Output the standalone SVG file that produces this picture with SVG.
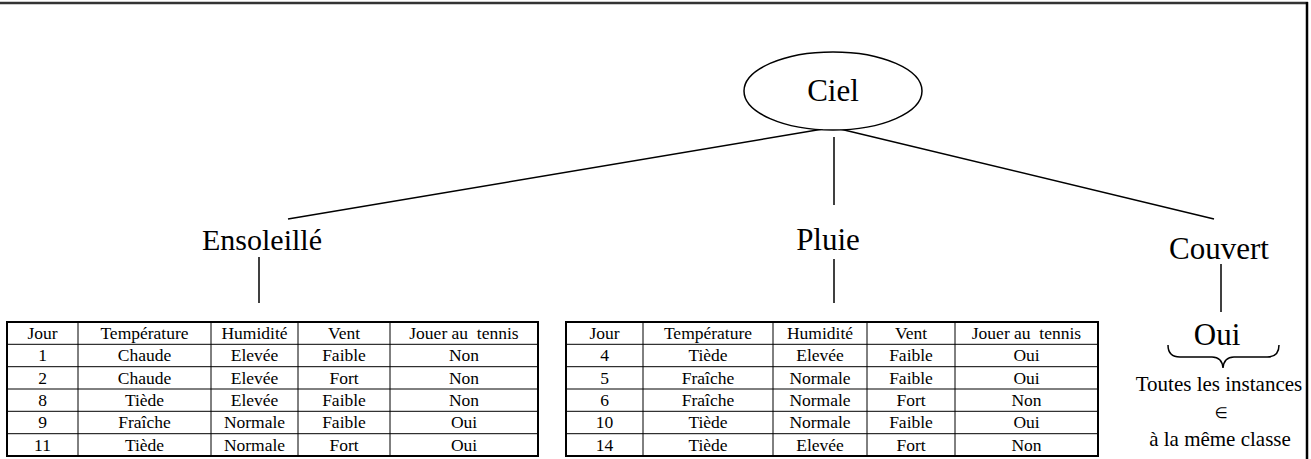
<svg xmlns="http://www.w3.org/2000/svg" width="1311" height="459" viewBox="0 0 1311 459">
<style>
.lbl{font-family:"Liberation Serif","Times New Roman",serif;font-size:31px;fill:#000;text-anchor:middle}
.t{font-family:"Liberation Serif","Times New Roman",serif;font-size:17.5px;fill:#000;text-anchor:middle;white-space:pre}
.s{font-family:"Liberation Serif","Times New Roman",serif;font-size:21px;fill:#000;text-anchor:middle}
.ln{stroke:#000;stroke-width:1.5;fill:none}
.outer{stroke:#000;stroke-width:2;fill:#fff}
.inner{stroke:#000;stroke-width:1;fill:none}
</style>
<rect width="1311" height="459" fill="#fff"/>
<g id="frame">
<line x1="0" y1="3" x2="1308" y2="3" stroke="#333" stroke-width="2.5"/>
<line x1="1307" y1="2" x2="1307" y2="459" stroke="#000" stroke-width="2.5"/>
</g>
<g id="connectors">
<line class="ln" x1="823" y1="129" x2="288" y2="219"/>
<line class="ln" x1="834" y1="137" x2="834" y2="205"/>
<line class="ln" x1="840" y1="129" x2="1214" y2="219"/>
<line class="ln" x1="259" y1="257" x2="259" y2="303"/>
<line class="ln" x1="834" y1="259" x2="834" y2="303"/>
<line class="ln" x1="1221" y1="264" x2="1221" y2="312"/>
</g>
<g id="ciel">
<ellipse cx="833" cy="91" rx="89" ry="39" fill="#fff" stroke="#000" stroke-width="1.5"/>
<text class="lbl" x="833" y="101">Ciel</text>
</g>
<g id="ensoleille"><text class="lbl" x="262" y="250" style="font-size:30px">Ensoleillé</text></g>
<g id="pluie"><text class="lbl" x="828" y="250">Pluie</text></g>
<g id="couvert"><text class="lbl" x="1219" y="259">Couvert</text></g>
<g id="oui">
<text class="lbl" x="1217" y="345">Oui</text>
<path d="M1168,345 Q1168,357 1180,357 L1212,357 Q1222,357 1223,368 Q1224,357 1234,357 L1267,357 Q1279,357 1279,345" class="ln"/>
<text class="s" x="1219" y="391">Toutes les instances</text>
<text x="1221" y="418" style="font-family:'DejaVu Sans',sans-serif;font-size:15px;text-anchor:middle">∈</text>
<text class="s" x="1220" y="446">à la même classe</text>
</g>
<g id="table-ensoleille">
<rect class="outer" x="7" y="322" width="531" height="134"/>
<path class="inner" d="M78,322V456M211,322V456M298,322V456M390,322V456M7,344.3H538M7,366.7H538M7,389H538M7,411.3H538M7,433.7H538"/>
<text class="t" y="339"><tspan x="42.5">Jour</tspan><tspan x="144.5">Température</tspan><tspan x="254.5">Humidité</tspan><tspan x="344">Vent</tspan><tspan x="464">Jouer au  tennis</tspan></text>
<text class="t" y="361.3"><tspan x="42.5">1</tspan><tspan x="144.5">Chaude</tspan><tspan x="254.5">Elevée</tspan><tspan x="344">Faible</tspan><tspan x="464">Non</tspan></text>
<text class="t" y="383.7"><tspan x="42.5">2</tspan><tspan x="144.5">Chaude</tspan><tspan x="254.5">Elevée</tspan><tspan x="344">Fort</tspan><tspan x="464">Non</tspan></text>
<text class="t" y="406"><tspan x="42.5">8</tspan><tspan x="144.5">Tiède</tspan><tspan x="254.5">Elevée</tspan><tspan x="344">Faible</tspan><tspan x="464">Non</tspan></text>
<text class="t" y="428.3"><tspan x="42.5">9</tspan><tspan x="144.5">Fraîche</tspan><tspan x="254.5">Normale</tspan><tspan x="344">Faible</tspan><tspan x="464">Oui</tspan></text>
<text class="t" y="450.7"><tspan x="42.5">11</tspan><tspan x="144.5">Tiède</tspan><tspan x="254.5">Normale</tspan><tspan x="344">Fort</tspan><tspan x="464">Oui</tspan></text>
</g>
<g id="table-pluie">
<rect class="outer" x="566" y="322" width="532" height="134"/>
<path class="inner" d="M643,322V456M773,322V456M867,322V456M955,322V456M566,344.3H1098M566,366.7H1098M566,389H1098M566,411.3H1098M566,433.7H1098"/>
<text class="t" y="339"><tspan x="604.5">Jour</tspan><tspan x="708">Température</tspan><tspan x="820">Humidité</tspan><tspan x="911">Vent</tspan><tspan x="1026.5">Jouer au  tennis</tspan></text>
<text class="t" y="361.3"><tspan x="604.5">4</tspan><tspan x="708">Tiède</tspan><tspan x="820">Elevée</tspan><tspan x="911">Faible</tspan><tspan x="1026.5">Oui</tspan></text>
<text class="t" y="383.7"><tspan x="604.5">5</tspan><tspan x="708">Fraîche</tspan><tspan x="820">Normale</tspan><tspan x="911">Faible</tspan><tspan x="1026.5">Oui</tspan></text>
<text class="t" y="406"><tspan x="604.5">6</tspan><tspan x="708">Fraîche</tspan><tspan x="820">Normale</tspan><tspan x="911">Fort</tspan><tspan x="1026.5">Non</tspan></text>
<text class="t" y="428.3"><tspan x="604.5">10</tspan><tspan x="708">Tiède</tspan><tspan x="820">Normale</tspan><tspan x="911">Faible</tspan><tspan x="1026.5">Oui</tspan></text>
<text class="t" y="450.7"><tspan x="604.5">14</tspan><tspan x="708">Tiède</tspan><tspan x="820">Elevée</tspan><tspan x="911">Fort</tspan><tspan x="1026.5">Non</tspan></text>
</g>
</svg>
